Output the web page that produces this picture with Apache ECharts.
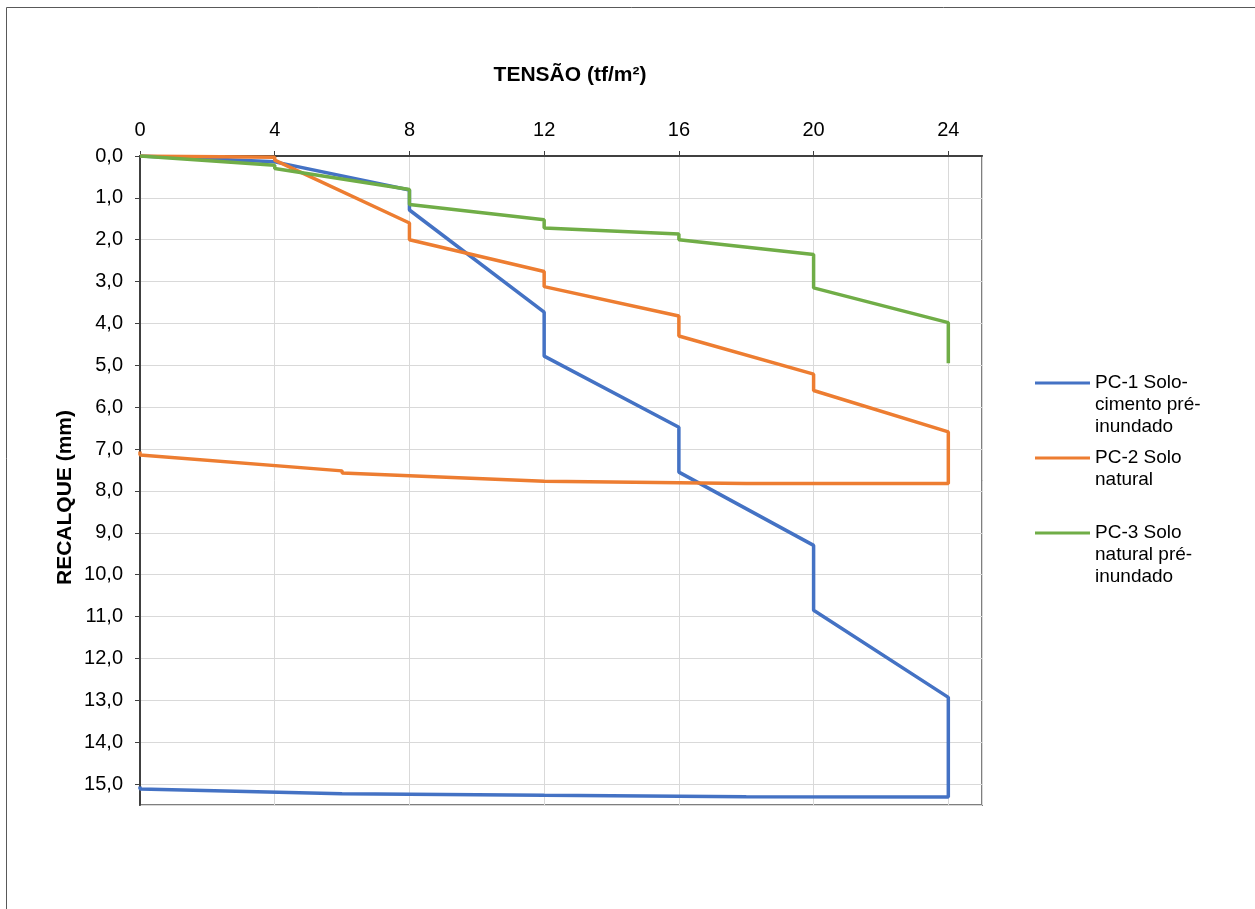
<!DOCTYPE html>
<html>
<head>
<meta charset="utf-8">
<script src="https://cdn.jsdelivr.net/npm/echarts@6/dist/echarts.min.js"></script>
<style>
html,body{margin:0;padding:0;background:#fff;}
#chart{width:1255px;height:909px;}
</style>
</head>
<body>
<div id="chart"></div>
<script>
// Series names
const seriesNames = [
  'PC-1 Solo-cimento pré-inundado',
  'PC-2 Solo natural',
  'PC-3 Solo natural pré-inundado'
];
const legendLabels = [
  'PC-1 Solo-\ncimento pré-\ninundado',
  'PC-2 Solo\nnatural',
  'PC-3 Solo\nnatural pré-\ninundado'
];
// Tensão (tf/m²) and Recalque (mm)
const pc1Tensao = [0, 4, 8, 8, 12, 12, 16, 16, 20, 20, 24, 24, 18, 12, 6, 6, 0, 0];
const pc1Recalque = [0, 0.14, 0.81, 1.29, 3.73, 4.78, 6.48, 7.55, 9.30, 10.85, 12.93, 15.31, 15.30, 15.27, 15.23, 15.20, 15.12, 15.06];
const pc2Tensao = [0, 4, 4, 8, 8, 12, 12, 16, 16, 20, 20, 24, 24, 18, 12, 6, 6, 0, 0];
const pc2Recalque = [0, 0.03, 0.10, 1.60, 2.00, 2.76, 3.12, 3.82, 4.30, 5.21, 5.60, 6.59, 7.82, 7.82, 7.77, 7.57, 7.52, 7.14, 7.06];
const pc3Tensao = [0, 4, 4, 8, 8, 12, 12, 16, 16, 20, 20, 24, 24];
const pc3Recalque = [0, 0.22, 0.30, 0.80, 1.16, 1.52, 1.72, 1.86, 2.00, 2.35, 3.15, 3.98, 4.95];
const colors = ['#4472C4', '#ED7D31', '#70AD47'];

function pairs(xs, ys) { return xs.map((x, i) => [x, ys[i]]); }
const seriesData = [pairs(pc1Tensao, pc1Recalque), pairs(pc2Tensao, pc2Recalque), pairs(pc3Tensao, pc3Recalque)];

const FONT = '"Liberation Sans", Arial, sans-serif';
const lineH = 22;
const legendIconY = [383, 458, 533];

const chart = echarts.init(document.getElementById('chart'), null, {renderer: 'canvas'});
const legends = seriesNames.map((n, i) => {
  const lines = legendLabels[i].split('\n');
  const nLines = lines.length;
  // leading blank lines so that the first text line sits level with the icon
  const padded = new Array(nLines - 1).fill(' ').concat(lines).join('\n');
  const total = 2 * nLines - 1;
  return {
    data: [n],
    left: 1035,
    top: legendIconY[i] - total * lineH / 2,
    padding: 0,
    orient: 'vertical',
    icon: 'rect',
    itemWidth: 55,
    itemHeight: 3,
    itemGap: 5,
    formatter: () => padded,
    textStyle: {fontFamily: FONT, fontSize: 19, color: '#000', lineHeight: lineH}
  };
});

chart.setOption({
  animation: false,
  backgroundColor: '#fff',
  color: colors,
  title: {
    text: 'TENSÃO (tf/m²)',
    left: 565,
    top: 60,
    textAlign: 'center',
    textStyle: {fontFamily: FONT, fontSize: 21, fontWeight: 'bold', color: '#000'}
  },
  legend: legends,
  grid: {
    left: 140, top: 156, right: 273, bottom: 104,
    show: true, borderColor: '#7f7f7f', borderWidth: 2, containLabel: false
  },
  xAxis: {
    type: 'value', position: 'top', min: 0, max: 25, interval: 4,
    axisLine: {show: true, onZero: false, lineStyle: {color: '#404040', width: 2}},
    axisTick: {show: true, length: 5, lineStyle: {color: '#404040'}},
    axisLabel: {show: true, showMaxLabel: false, margin: 16, fontFamily: FONT, fontSize: 20, color: '#000'},
    splitLine: {show: true, lineStyle: {color: '#d9d9d9', width: 1}}
  },
  yAxis: {
    type: 'value', inverse: true, min: 0, max: 15.5, interval: 1,
    name: 'RECALQUE (mm)', nameLocation: 'middle', nameGap: 64, nameMoveOverlap: false,
    nameTextStyle: {fontFamily: FONT, fontSize: 21, fontWeight: 'bold', color: '#000', padding: [0, 34, 0, 0]},
    axisLine: {show: true, onZero: false, lineStyle: {color: '#404040', width: 2}},
    axisTick: {show: true, length: 5, lineStyle: {color: '#404040'}},
    axisLabel: {
      show: true, showMaxLabel: false, margin: 17, fontFamily: FONT, fontSize: 20, color: '#000',
      formatter: v => v.toFixed(1).replace('.', ',')
    },
    splitLine: {show: true, lineStyle: {color: '#d9d9d9', width: 1}}
  },
  series: seriesNames.map((n, i) => ({
    name: n, type: 'line', data: seriesData[i],
    showSymbol: false, symbol: 'none',
    lineStyle: {color: colors[i], width: 3.5},
    itemStyle: {color: colors[i]}
  })),
  graphic: [{
    type: 'rect', silent: true, z: -1,
    shape: {x: 6.5, y: 7.5, width: 1260, height: 920},
    style: {fill: 'none', stroke: '#595959', lineWidth: 1}
  }]
});
</script>
</body>
</html>
